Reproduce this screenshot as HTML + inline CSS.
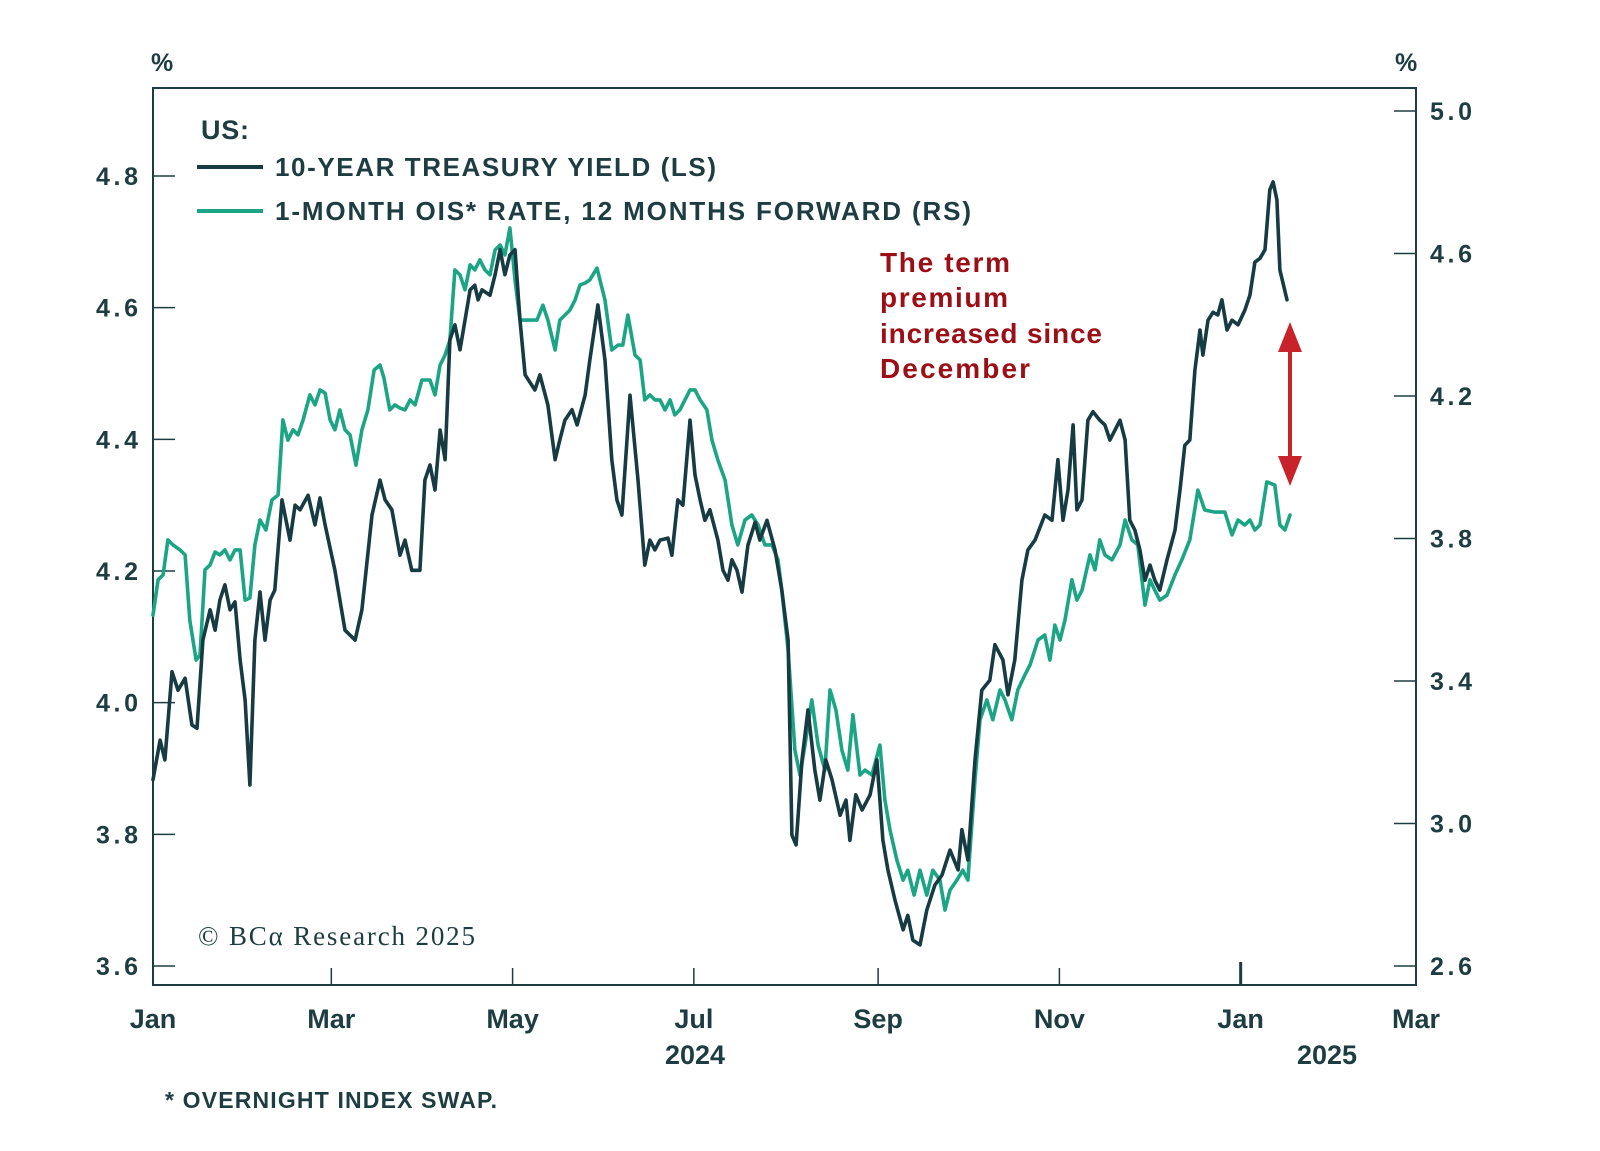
<!DOCTYPE html>
<html><head><meta charset="utf-8">
<style>
html,body{margin:0;padding:0;background:#fff;}
svg{display:block;font-family:"Liberation Sans",sans-serif;}
</style></head>
<body>
<svg id="chart" width="1600" height="1151" viewBox="0 0 1600 1151">
</svg>
<script>
const monthLabels=["Jan","Mar","May","Jul","Sep","Nov","Jan","Mar"];
const monthDays=[0,60,121,182,244,305,366,425];
const leftTicks=[3.6,3.8,4.0,4.2,4.4,4.6,4.8];
const rightTicks=[2.6,3.0,3.4,3.8,4.2,4.6,5.0];
const tenYDays=[0,2.4,4,6.4,8.4,10.8,13.1,14.8,16.8,19.2,20.9,22.5,24.2,25.9,27.6,29.3,31,32.6,34.3,36,37.7,39.4,41,43.4,46.1,47.8,49.5,52.2,54.5,56.2,57.9,61.2,64.6,68,70.3,73.7,76.4,78.1,80.4,83.1,84.8,87.1,89.8,91.5,93.2,94.9,96.6,98.3,99.9,101.6,103.3,105,106.7,108.3,109.4,110.7,113.4,115.1,116.8,118.4,120.1,121.8,123.5,125.2,128.5,130.2,132.9,135.3,136.9,138.6,141,142.7,145.4,147,149.7,152.1,154.4,156.1,157.8,160.5,163.2,165.5,167.2,168.9,170.6,173.3,174.6,176.6,178.3,180.7,182.4,184.1,185.7,187.4,190.1,191.8,193.5,194.8,196.5,198.2,200.2,202.6,204.2,206.6,209.3,211.6,213.7,215,216.4,218.4,220.4,222.7,224.4,226.4,228.5,231.2,233.2,234.5,236.5,238.6,241.3,243.6,245.6,247.3,249.7,252.4,254,255.7,258.1,260.4,263.1,265.5,268.2,270.9,272.2,274.2,276.6,278.9,281.6,283.3,286,287.7,290,292.4,294.4,296.8,300.1,302.5,304.5,306.2,307.9,309.6,310.9,312.6,314.6,316.3,318.6,320.3,322,323.7,325.4,327.1,328.7,330.4,332.1,333.8,335.5,337.1,338.8,341.2,343.9,345.6,347.2,348.9,350.6,352.3,353.3,355,356.7,358.3,359.7,361.4,363.1,365.1,367.4,369.1,370.8,372.5,374.2,375.8,376.9,378.2,379.2,381.6];
const tenYValues=[3.883,3.943,3.913,4.047,4.019,4.037,3.966,3.961,4.095,4.141,4.110,4.156,4.179,4.141,4.153,4.065,4.004,3.875,4.095,4.168,4.095,4.156,4.171,4.308,4.247,4.300,4.293,4.315,4.270,4.311,4.270,4.201,4.110,4.095,4.141,4.285,4.338,4.308,4.293,4.224,4.247,4.201,4.201,4.338,4.361,4.323,4.414,4.369,4.551,4.574,4.536,4.581,4.627,4.634,4.612,4.627,4.619,4.650,4.688,4.650,4.680,4.688,4.581,4.498,4.475,4.498,4.452,4.369,4.399,4.429,4.445,4.422,4.467,4.520,4.604,4.520,4.369,4.308,4.285,4.467,4.338,4.209,4.247,4.232,4.247,4.250,4.224,4.308,4.300,4.429,4.346,4.308,4.277,4.293,4.247,4.201,4.186,4.217,4.201,4.168,4.239,4.274,4.247,4.277,4.232,4.171,4.095,3.799,3.784,3.913,3.989,3.898,3.852,3.913,3.883,3.829,3.852,3.791,3.860,3.837,3.860,3.913,3.791,3.746,3.700,3.655,3.677,3.639,3.632,3.685,3.723,3.738,3.776,3.746,3.807,3.761,3.913,4.019,4.034,4.088,4.065,4.012,4.065,4.186,4.232,4.247,4.285,4.277,4.369,4.277,4.323,4.422,4.293,4.308,4.429,4.442,4.429,4.422,4.399,4.414,4.429,4.399,4.277,4.262,4.232,4.186,4.209,4.186,4.171,4.217,4.262,4.323,4.391,4.399,4.505,4.566,4.528,4.581,4.593,4.589,4.612,4.566,4.581,4.574,4.596,4.619,4.669,4.675,4.688,4.779,4.791,4.764,4.657,4.612];
const oisDays=[0,1.7,3.4,5,6.7,9.1,10.8,12.4,14.5,15.8,17.5,19.2,20.9,22.5,24.2,25.9,27.6,29.3,31,32.6,34.3,36,38,40,42.1,43.7,45.4,47.1,48.8,50.5,52.8,54.5,56.2,57.9,59.6,61.2,62.9,64.6,66.3,68.3,70.3,72.3,74.4,76.4,77.7,79.7,81.4,83.1,84.8,86.5,88.2,90.5,93.2,94.9,96.6,98.3,99.9,101.6,103.3,105,106.7,108.3,110,111.7,113.4,115.1,116.8,118.4,120.1,121.8,123.5,126.9,129.2,131.2,132.9,135.3,136.9,138.6,140.3,142,143.7,145.4,147,149.4,152.1,154.4,156.5,158.1,159.8,162.2,163.9,165.5,167.2,168.9,170.6,172.3,174,175.6,177.3,180.7,182.4,184.1,186.4,188.1,190.1,192.5,194.8,196.8,199.2,201.5,203.6,205.9,208.3,210.3,211.6,213.7,216,217.7,219.4,221.7,223.8,226.1,227.8,229.8,231.8,233.8,235.5,237.9,239.6,241.9,244.6,246.3,248,250.3,252.4,254,256.1,258.1,260.4,262.4,264.8,266.5,268.2,270.5,272.5,274.2,276.6,278.3,280.6,282.6,285,286.7,289,291,293.4,295.1,297.8,300.1,301.8,303.5,305.2,306.9,309.2,310.9,312.6,315.3,317,318.6,320.3,322.7,325.4,327.1,329.4,331.4,333.8,335.5,337.1,338.8,341.2,343.9,346.2,348.9,351.6,353.9,357.3,360.7,363.1,365.1,367.4,369.1,370.8,372.5,374.8,377.5,379.2,380.9,382.6];
const oisValues=[3.585,3.684,3.698,3.796,3.782,3.768,3.754,3.571,3.459,3.473,3.712,3.726,3.762,3.754,3.768,3.740,3.768,3.768,3.627,3.633,3.782,3.852,3.824,3.908,3.922,4.133,4.076,4.105,4.091,4.133,4.203,4.175,4.217,4.208,4.133,4.105,4.161,4.105,4.091,4.006,4.105,4.161,4.273,4.287,4.251,4.161,4.175,4.166,4.161,4.189,4.175,4.245,4.245,4.203,4.287,4.315,4.357,4.554,4.540,4.498,4.568,4.554,4.582,4.554,4.540,4.610,4.624,4.596,4.672,4.526,4.413,4.413,4.413,4.455,4.413,4.329,4.413,4.427,4.441,4.469,4.512,4.517,4.526,4.559,4.469,4.329,4.343,4.343,4.427,4.315,4.301,4.189,4.203,4.189,4.189,4.161,4.189,4.147,4.161,4.217,4.217,4.189,4.161,4.076,4.020,3.964,3.838,3.782,3.852,3.866,3.838,3.782,3.782,3.740,3.655,3.487,3.206,3.136,3.220,3.347,3.220,3.150,3.375,3.319,3.206,3.150,3.305,3.136,3.150,3.136,3.220,3.066,2.982,2.898,2.841,2.869,2.799,2.869,2.799,2.869,2.841,2.757,2.813,2.841,2.869,2.841,3.122,3.291,3.347,3.291,3.375,3.347,3.291,3.375,3.417,3.445,3.515,3.529,3.459,3.557,3.515,3.571,3.684,3.627,3.655,3.754,3.712,3.796,3.754,3.740,3.782,3.852,3.796,3.782,3.613,3.684,3.655,3.627,3.641,3.698,3.740,3.796,3.936,3.880,3.874,3.874,3.810,3.852,3.838,3.852,3.824,3.838,3.959,3.950,3.838,3.824,3.866];

const NS="http://www.w3.org/2000/svg";
const svg=document.getElementById('chart');
const TXT="#1e3d42", DARK="#173b42", GREEN="#1ca585", RED="#9c0f16";
const L=153,R=1416,T=88,B=985;
const xS=d=>L+(d-0)*(R-L)/425;
const yL=v=>176+(4.8-v)*(966-176)/1.2;
const yR=v=>111+(5.0-v)*(966-111)/2.4;
function el(tag,attrs,parent){const e=document.createElementNS(NS,tag);for(const k in attrs)e.setAttribute(k,attrs[k]);(parent||svg).appendChild(e);return e;}
function txt(s,attrs){const e=el('text',attrs);e.textContent=s;return e;}

const frame=el('rect',{x:L,y:T,width:R-L,height:B-T,fill:'none',stroke:TXT,'stroke-width':2});



leftTicks.forEach(v=>{
  const t=el('line',{x1:L,x2:L+22,y1:yL(v),y2:yL(v),stroke:TXT,'stroke-width':1.5});
  
  
  const lb=txt(v.toFixed(1),{x:138,y:yL(v)+9,'text-anchor':'end','font-size':25,fill:TXT,'font-weight':'bold',textLength:42});
  
  
});
rightTicks.forEach(v=>{
  const t=el('line',{x1:R-22,x2:R,y1:yR(v),y2:yR(v),stroke:TXT,'stroke-width':1.5});
  
  
  const lb=txt(v.toFixed(1),{x:1430,y:yR(v)+9,'font-size':25,fill:TXT,'font-weight':'bold',textLength:42});
  
  
});
monthDays.forEach((d,i)=>{
  const t=el('line',{x1:xS(d),x2:xS(d),y1:B,y2:i==6?962:968,stroke:TXT,'stroke-width':i==6?3:1.5});
  
  
  const lb=txt(monthLabels[i],{x:xS(d),y:1028,'text-anchor':'middle','font-size':27,fill:TXT,'font-weight':'bold'});
  
  
});

function line(days,vals,ys,color,name){
  const d=days.map((x,i)=>(i?'L':'M')+xS(x).toFixed(1)+','+ys(vals[i]).toFixed(1)).join('');
  const p=el('path',{d:d,fill:'none',stroke:color,'stroke-width':3.6,'stroke-linejoin':'round','stroke-linecap':'round'});
  
  
}
line(oisDays,oisValues,yR,GREEN,'ois-forward-line');
line(tenYDays,tenYValues,yL,DARK,'treasury-10y-line');
</script>
<div style="position:absolute;left:0;top:0;width:1600px;height:1151px;pointer-events:none">
<svg width="1600" height="1151" style="font-family:'Liberation Sans',sans-serif">
  <text x="151" y="71" font-size="25" fill="#1e3d42" font-weight="bold">%</text>
  <text x="1395" y="71" font-size="25" fill="#1e3d42" font-weight="bold">%</text>
  <text x="201" y="139" font-size="27" fill="#1e3d42" font-weight="bold" textLength="48">US:</text>
  <line x1="197" x2="263" y1="167" y2="167" stroke="#173b42" stroke-width="4"/>
  <text x="275" y="176" font-size="26" fill="#1e3d42" font-weight="bold" textLength="441">10-YEAR TREASURY YIELD (LS)</text>
  <line x1="197" x2="263" y1="211" y2="211" stroke="#1ca585" stroke-width="4"/>
  <text x="275" y="220" font-size="26" fill="#1e3d42" font-weight="bold" textLength="696">1-MONTH OIS* RATE, 12 MONTHS FORWARD (RS)</text>
  <g font-size="28" fill="#9c0f16" font-weight="bold">
    <text x="880" y="272" textLength="130">The term</text>
    <text x="880" y="307" textLength="128">premium</text>
    <text x="880" y="343" textLength="222">increased since</text>
    <text x="880" y="378" textLength="150">December</text>
  </g>
  <g>
    <line x1="1290" x2="1290" y1="340" y2="468" stroke="#c8232a" stroke-width="4"/>
    <polygon points="1290,322 1278,352 1302,352" fill="#c8232a"/>
    <polygon points="1290,486 1278,456 1302,456" fill="#c8232a"/>
  </g>
  <text x="198" y="945" font-size="27" fill="#1e3d42" font-family="'Liberation Serif',serif" textLength="277">© BCα Research 2025</text>
  <text x="695" y="1064" font-size="27" fill="#1e3d42" font-weight="bold" text-anchor="middle">2024</text>
  <text x="1327" y="1064" font-size="27" fill="#1e3d42" font-weight="bold" text-anchor="middle">2025</text>
  <text x="165" y="1108" font-size="23" fill="#1e3d42" font-weight="bold" textLength="332">* OVERNIGHT INDEX SWAP.</text>
</svg>
</div>
</body></html>
